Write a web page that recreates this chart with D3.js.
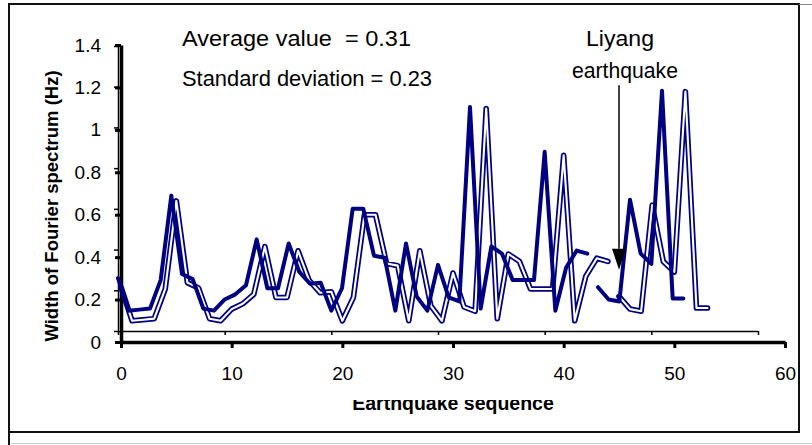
<!DOCTYPE html>
<html><head><meta charset="utf-8">
<script src="https://cdn.jsdelivr.net/npm/d3@7"></script>
<style>
html,body{margin:0;padding:0;background:#fff;}
svg{display:block;font-family:"Liberation Sans",Arial,sans-serif;}
</style></head>
<body>
<svg id="chart" width="812" height="445"></svg>
<script>
// Earthquake sequence index 0..53, width of Fourier spectrum (Hz)
const sequence = d3.range(0, 54);
const widthHz = [0.26,0.10,0.105,0.11,0.25,0.665,0.28,0.255,0.11,0.10,
  0.155,0.18,0.225,0.45,0.21,0.21,0.43,0.29,0.232,0.237,
  0.10,0.21,0.60,0.60,0.37,0.36,0.10,0.43,0.17,0.10,
  0.325,0.165,0.145,1.10,0.11,0.415,0.38,0.25,0.25,0.25,
  0.88,0.10,0.31,0.395,0.38,0.215,0.155,0.145,0.645,0.38,
  0.33,1.18,0.16,0.16];
const segmentBreakAfter = 44;          // line is not joined between 44 and 45
const xTicks = [0,10,20,30,40,50,60];
const yTicks = [0,0.2,0.4,0.6,0.8,1,1.2,1.4];
const notes = ["Average value  = 0.31", "Standard deviation = 0.23"];
const arrowLabel = ["Liyang", "earthquake"];
const liyangIndex = 45;
const xTitle = "Earthquake sequence";
const yTitle = "Width of Fourier spectrum (Hz)";

const svg = d3.select("#chart");
const navy = "#000080";

// Frame
svg.append("rect").attr("x",9).attr("y",4).attr("width",790).attr("height",428)
  .attr("fill","none").attr("stroke","#111").attr("stroke-width",2);
svg.append("line").attr("x1",799).attr("x2",812).attr("y1",4.5).attr("y2",4.5).attr("stroke","#888").attr("stroke-width",1);
svg.append("line").attr("x1",9).attr("x2",9).attr("y1",432).attr("y2",445).attr("stroke","#111").attr("stroke-width",2);
svg.append("line").attr("x1",11).attr("x2",812).attr("y1",443.5).attr("y2",443.5).attr("stroke","#ccc").attr("stroke-width",1);

// Two overlaid, slightly mis-registered plot frames
const xOuter = d3.scaleLinear().domain([0,60]).range([121,785]);
const yOuter = d3.scaleLinear().domain([0,1.4]).range([342,45]);
const xInner = d3.scaleLinear().domain([0,60]).range([118,758]);
const yInner = d3.scaleLinear().domain([0,1.4]).range([331,46]);

// Inner (thin) axes
const gxi = svg.append("g").attr("transform",`translate(0,${yInner(0)})`)
  .call(d3.axisBottom(xInner).tickValues(xTicks).tickSize(4).tickSizeOuter(0).tickFormat(""));
gxi.select(".domain").attr("stroke","#000").attr("stroke-width",1.5);
gxi.selectAll(".tick line").attr("stroke","#000").attr("stroke-width",1.5);
const gyi = svg.append("g").attr("transform",`translate(${xInner(0)},0)`)
  .call(d3.axisLeft(yInner).tickValues(yTicks).tickSize(4).tickSizeOuter(0).tickFormat(""));
gyi.select(".domain").attr("stroke","#000").attr("stroke-width",1.5);
gyi.selectAll(".tick line").attr("stroke","#000").attr("stroke-width",1.5);

// Outer (thick, labelled) axes
const gx = svg.append("g").attr("transform",`translate(0,${yOuter(0)})`)
  .call(d3.axisBottom(xOuter).tickValues(xTicks).tickSize(6).tickSizeOuter(0).tickPadding(19).tickFormat(d3.format("d")));
gx.select(".domain").attr("stroke","#000").attr("stroke-width",3.5);
gx.selectAll(".tick line").attr("stroke","#000").attr("stroke-width",3);
gx.selectAll("text").attr("font-size",19).attr("fill","#000").attr("font-family","Liberation Sans, Arial");

const gy = svg.append("g").attr("transform",`translate(${xOuter(0)},0)`)
  .call(d3.axisLeft(yOuter).tickValues(yTicks).tickSize(6).tickSizeOuter(0).tickPadding(14)
    .tickFormat(d => String(+d.toFixed(1))));
gy.select(".domain").attr("stroke","#000").attr("stroke-width",3.5);
gy.selectAll(".tick line").attr("stroke","#000").attr("stroke-width",3);
gy.selectAll("text").attr("font-size",19).attr("fill","#000").attr("font-family","Liberation Sans, Arial");

// Data segments
const pts = sequence.map((k,i)=>({k, v: widthHz[i]}));
const segments = [pts.slice(0, segmentBreakAfter+1), pts.slice(segmentBreakAfter+1)];

// Double-outlined line (outer frame)
const lineOuter = d3.line().x(d=>xOuter(d.k)).y(d=>yOuter(d.v));
segments.forEach(seg=>{
  svg.append("path").attr("d",lineOuter(seg)).attr("fill","none")
    .attr("stroke",navy).attr("stroke-width",5.6).attr("stroke-linejoin","round").attr("stroke-linecap","round");
  svg.append("path").attr("d",lineOuter(seg)).attr("fill","none")
    .attr("stroke","#fff").attr("stroke-width",2.1).attr("stroke-linejoin","round").attr("stroke-linecap","round");
});
// Thick solid line (inner frame)
const lineInner = d3.line().x(d=>xInner(d.k)).y(d=>yInner(d.v));
segments.forEach(seg=>{
  svg.append("path").attr("d",lineInner(seg)).attr("fill","none")
    .attr("stroke",navy).attr("stroke-width",4).attr("stroke-linejoin","round").attr("stroke-linecap","round");
});

// Annotations
function note(x, y, txt, len, anchor){
  const t = svg.append("text").attr("x",x).attr("y",y).attr("font-size",21.5)
    .attr("text-anchor",anchor||"start").attr("xml:space","preserve").style("white-space","pre").text(txt);
  if (len) t.attr("textLength",len).attr("lengthAdjust","spacingAndGlyphs");
}
note(182, 46, notes[0], 229);
note(182, 86, notes[1], 250);
const ax = xOuter(liyangIndex);
note(ax+1, 46, arrowLabel[0], 68, "middle");
note(ax+6, 78, arrowLabel[1], 106, "middle");
svg.append("line").attr("x1",ax).attr("x2",ax).attr("y1",yOuter(1.21)).attr("y2",yOuter(0.44))
  .attr("stroke","#000").attr("stroke-width",1.5);
svg.append("path").attr("d",`M${ax-7},${yOuter(0.44)}L${ax+7},${yOuter(0.44)}L${ax},${yOuter(0.34)}Z`).attr("fill","#000");

// Axis titles
svg.append("text").attr("transform",`translate(58,206) rotate(-90)`).attr("text-anchor","middle")
  .attr("font-size",18.5).attr("font-weight","bold").text(yTitle);
svg.append("clipPath").attr("id","xtclip").append("rect").attr("x",0).attr("y",400).attr("width",812).attr("height",40);
svg.append("text").attr("x",453).attr("y",410).attr("text-anchor","middle").attr("clip-path","url(#xtclip)")
  .attr("font-size",19.5).attr("font-weight","bold").text(xTitle);
</script>
</body></html>
